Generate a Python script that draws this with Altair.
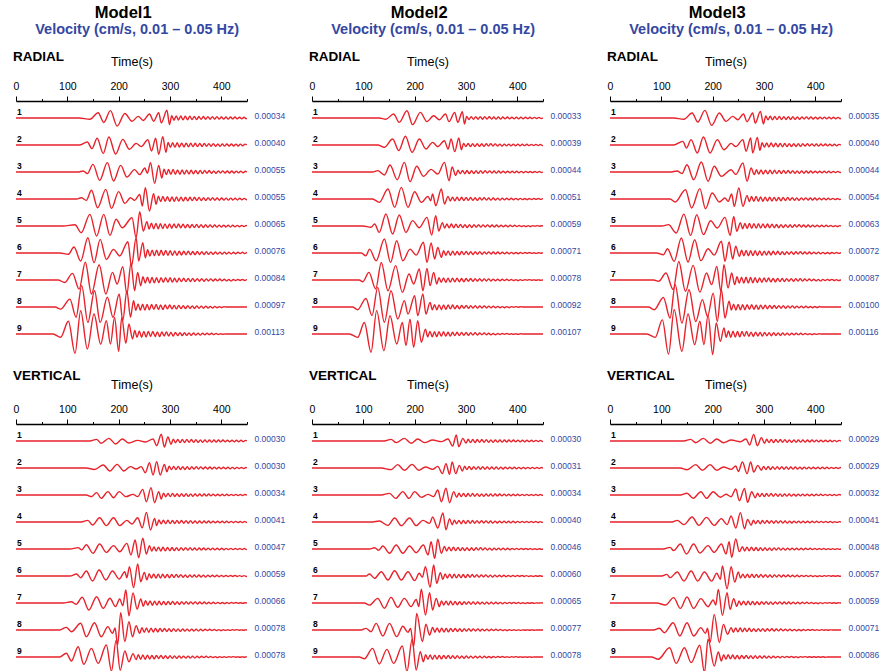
import altair as alt
import pandas as pd

# ------------------------------------------------------------------ data
TIME_MAX = 450
TICK_VALUES = [0, 50, 100, 150, 200, 250, 300, 350, 400, 450]
MODELS = ["Model1", "Model2", "Model3"]
SUBTITLE = "Velocity (cm/s, 0.01 \u2013 0.05 Hz)"
CODA_STEP = 4.4  # seconds between successive coda extrema

# peak amplitude labels (cm/s)
M1_RAD_PEAK = [0.00034, 0.00040, 0.00055, 0.00055, 0.00065, 0.00076, 0.00084, 0.00097, 0.00113]
M1_VER_PEAK = [0.00030, 0.00030, 0.00034, 0.00041, 0.00047, 0.00059, 0.00066, 0.00078, 0.00078]
M2_RAD_PEAK = [0.00033, 0.00039, 0.00044, 0.00051, 0.00059, 0.00071, 0.00078, 0.00092, 0.00107]
M2_VER_PEAK = [0.00030, 0.00031, 0.00034, 0.00040, 0.00046, 0.00060, 0.00065, 0.00077, 0.00078]
M3_RAD_PEAK = [0.00035, 0.00040, 0.00044, 0.00054, 0.00063, 0.00072, 0.00087, 0.00100, 0.00116]
M3_VER_PEAK = [0.00029, 0.00029, 0.00032, 0.00041, 0.00048, 0.00057, 0.00059, 0.00071, 0.00086]

# main wave train: extrema times (s) and amplitudes (% of trace peak)
M1_RAD_T = [
    [123,144,160,171,184,197,212,226,238,248,260,268,278,283,294,299],
    [123,139,148,158,170,181,194,208,221,234,244,257,264,272,278,286,292],
    [121,131,139,150,163,178,190,204,216,231,241,251,256,262,270,278,284],
    [118,127,137,147,159,175,186,200,212,223,231,241,246,252,260,268,273],
    [92,115,127,144,157,171,183,195,207,226,234,241,248,255],
    [85,102,113,126,140,152,164,176,190,202,218,225,234,239,247,252],
    [82,95,110,123,135,147,162,175,188,197,208,216,224,231,237,243],
    [76,87,105,117,128,140,153,164,178,189,201,208,216,223,229],
    [72,87,102,115,126,139,152,165,176,184,192,200,206,214,220,227],
]
M1_RAD_A = [
    [0,-15,65,-55,90,-100,55,-40,20,-30,50,-40,65,-60,95,-80],
    [0,31,-38,70,-87,83,-94,59,-45,17,-17,55,-63,70,-97,87,-76],
    [0,8,-12,58,-63,71,-68,50,-38,18,-20,30,-10,71,-86,50,-45],
    [0,10,-10,66,-66,73,-71,56,-33,10,-10,35,-53,86,-91,40,-40],
    [0,8,-43,75,-64,75,-60,43,-11,53,-75,92,-32,28],
    [0,-7,33,-44,84,-53,75,-35,20,-16,62,-71,84,-44,57,-26],
    [0,-12,33,-45,88,-69,76,-69,38,-20,66,-69,83,-53,38,-28],
    [0,-9,34,-44,92,-66,70,-66,42,-44,56,-59,70,-44,27],
    [0,-12,47,-71,86,-55,74,-37,49,-37,61,-64,61,-34,37,-18],
]
M1_VER_T = [
    [144,157,166,181,194,207,220,237,252,267,274,283,289,296,302],
    [137,153,170,183,197,210,223,234,244,252,260,267,274,281,289,294],
    [137,147,157,166,179,190,201,214,228,237,247,254,263,270,278,283],
    [127,140,149,163,176,190,202,216,226,237,246,254,262,270,274],
    [105,121,128,137,150,163,176,190,202,216,224,232,239,247,254,260],
    [105,118,126,137,149,162,175,188,201,212,216,221,229,237,243,250,255],
    [92,108,117,129,142,157,170,183,194,202,208,214,220,228,236,243,248],
    [85,98,108,126,137,153,166,179,188,193,198,204,212,220,227,234,241],
    [85,98,108,121,132,147,160,176,186,195,203,212,220,228,234],
]
M1_VER_A = [
    [0,23,-32,37,-42,28,-28,9,-14,28,-65,93,-83,55,-46],
    [0,-20,42,-42,51,-42,19,-14,19,-65,74,-97,88,-97,51,-51],
    [0,-20,29,-41,41,-33,41,-20,8,-20,69,-82,90,-94,41,-49],
    [0,17,-31,44,-37,44,-37,17,-20,44,-58,98,-81,37,-37],
    [0,12,-8,38,-38,44,-30,30,-24,50,-53,80,-77,95,-44,30],
    [0,14,-12,35,-35,42,-28,35,-21,30,-12,66,-82,85,-40,26,-28],
    [0,8,-8,36,-44,40,-34,30,-23,25,-17,82,-80,63,-38,25,-21],
    [0,14,-9,36,-36,39,-36,18,-18,11,-80,93,-62,44,-36,23,-18],
    [0,20,-21,55,-39,46,-34,64,-75,89,-71,32,-25,18,-14],
]
M2_RAD_T = [
    [131,144,159,170,185,196,211,224,237,248,260,267,278,284,293,297],
    [128,141,157,169,182,195,209,222,235,245,258,265,271,278,286,291],
    [118,128,141,152,166,180,191,204,217,232,245,258,267,273,280],
    [118,131,148,161,174,187,200,213,226,231,235,241,252,258,265],
    [99,115,122,131,144,157,170,183,196,209,224,233,241,247,254],
    [96,105,112,125,141,153,165,177,191,203,217,224,232,239,245,252],
    [92,99,111,124,135,148,163,176,189,198,209,216,224,230,237,243],
    [79,89,105,117,128,141,154,167,180,187,200,206,216,222,230],
    [73,89,102,115,126,140,152,165,176,183,191,198,206,213,221],
]
M2_RAD_A = [
    [0,-15,50,-55,92,-84,71,-46,29,-21,50,-46,71,-55,80,-76],
    [0,-25,64,-60,93,-78,64,-43,28,-18,46,-43,64,-71,75,-50],
    [0,13,-28,66,-73,91,-91,54,-41,25,-19,91,-82,47,-32],
    [0,-27,82,-68,95,-68,60,-27,22,-14,41,-55,82,-41,22],
    [0,-9,14,-45,85,-56,78,-45,38,-12,61,-64,73,-35,24],
    [0,-16,23,-45,82,-55,72,-45,23,-12,63,-55,59,-35,33,-25],
    [0,-9,41,-48,94,-57,77,-66,32,-21,59,-57,62,-30,41,-21],
    [0,-12,39,-39,89,-69,74,-54,29,-32,51,-39,59,-32,21],
    [0,-13,45,-71,91,-65,71,-39,45,-45,58,-52,52,-32,19],
]
M2_VER_T = [
    [141,154,164,180,193,206,219,235,252,265,274,281,286,294,300],
    [135,154,167,180,195,208,221,235,245,254,261,268,273,280,287,293],
    [135,151,163,177,189,200,213,226,237,245,252,261,268,276,282],
    [118,131,148,161,174,190,203,216,229,235,245,255,261,268,273],
    [112,122,130,138,151,164,177,190,203,217,226,232,239,245,252,258],
    [105,112,122,135,148,161,174,187,200,209,215,221,230,237,243,250,255],
    [102,112,128,141,154,167,180,193,203,208,213,221,229,235,242,248],
    [96,105,115,125,138,151,165,177,187,192,198,204,215,222,229,235],
    [92,102,118,131,146,159,176,185,195,203,211,217],
]
M2_VER_A = [
    [0,23,-23,37,-32,28,-23,14,-9,28,-69,83,-79,37,-28],
    [0,-22,45,-31,49,-31,14,-18,22,-76,58,-85,81,-76,36,-40],
    [0,20,-41,41,-41,41,-29,8,-20,61,-82,82,-94,41,-29],
    [0,10,-35,42,-38,42,-38,17,-14,52,-63,94,-80,35,-28],
    [0,12,-12,27,-39,36,-39,27,-33,36,-54,66,-85,88,-39,24],
    [0,14,-16,30,-28,37,-28,30,-32,19,-9,65,-79,76,-51,23,-23],
    [0,-13,30,-34,36,-28,30,-23,23,-23,88,-77,66,-45,30,-23],
    [0,9,-9,36,-32,36,-36,20,-13,9,-90,90,-63,32,-27,14],
    [0,-9,46,-37,41,-34,59,-78,94,-69,28,-25],
]
M3_RAD_T = [
    [124,144,160,171,185,198,213,226,239,249,260,267,278,283,293,299],
    [124,142,149,158,170,182,195,209,222,236,245,259,265,274,278,287,292],
    [117,131,140,150,163,178,191,203,217,236,245,259,267,275,281],
    [117,127,147,159,175,186,199,213,224,230,237,242,251,259,267],
    [101,114,129,144,157,169,182,196,209,224,234,241,247,254],
    [91,104,112,125,139,152,165,177,191,203,217,224,232,239,245,252],
    [85,95,109,123,134,147,162,175,188,198,208,216,222,230,237,243],
    [75,86,104,117,127,140,154,167,180,190,201,209,217,224,232],
    [72,88,102,114,125,140,152,165,175,183,191,200,207,215,222],
]
M3_RAD_A = [
    [0,-15,60,-48,91,-87,60,-40,20,-20,48,-44,60,-60,79,-71],
    [0,38,-31,56,-83,83,-83,56,-49,17,-17,56,-66,73,-83,80,-55],
    [0,10,-15,69,-73,95,-88,54,-41,22,-22,85,-88,38,-25],
    [0,-23,72,-69,80,-75,46,-23,8,-18,39,-57,85,-57,28],
    [0,9,-46,79,-62,75,-57,35,-13,57,-62,64,-35,22],
    [0,-10,25,-48,87,-52,77,-44,25,-12,68,-48,64,-35,39,-20],
    [0,-6,34,-46,89,-54,70,-58,34,-22,65,-54,73,-38,34,-22],
    [0,-11,40,-46,93,-67,72,-60,31,-39,58,-60,72,-46,24],
    [0,-12,51,-72,87,-62,72,-38,46,-38,69,-74,40,-26,22],
]
M3_VER_T = [
    [144,157,167,182,195,208,221,236,254,265,272,280,287,295,301],
    [137,150,167,180,195,208,221,236,245,250,258,267,274,280,288,295],
    [137,150,162,177,188,201,215,226,236,245,252,262,268,276,283],
    [121,131,144,160,173,188,203,217,228,236,245,254,262,268,275],
    [104,117,124,137,149,163,175,191,203,217,226,232,237,245,252,258],
    [101,111,117,131,144,158,171,184,198,208,215,219,228,236,243,250],
    [91,108,124,137,150,163,177,191,201,206,211,219,228,234,241,247],
    [85,96,106,123,136,150,163,177,186,190,195,203,213,221,229,236],
    [81,94,116,129,145,158,175,184,191,203,211,217],
]
M3_VER_A = [
    [0,24,-24,38,-33,29,-24,14,-10,29,-57,96,-67,48,-33],
    [0,-24,48,-33,48,-33,14,-19,29,-50,86,-81,86,-57,38,-33],
    [0,22,-43,43,-43,43,-30,9,-22,78,-74,87,-96,43,-35],
    [0,17,-27,51,-34,47,-34,34,-27,61,-61,95,-68,27,-34],
    [0,14,-14,43,-43,43,-35,29,-29,43,-43,64,-72,87,-23,20],
    [0,12,-12,29,-37,37,-37,29,-37,20,-24,73,-93,68,-44,29],
    [0,-14,38,-38,42,-38,31,-26,21,-14,96,-87,73,-45,31,-24],
    [0,10,-16,43,-35,43,-35,14,-20,10,-74,92,-74,33,-25,14],
    [0,-11,45,-31,45,-27,57,-76,86,-44,24,-19],
]

# coda: magnitudes (% of trace peak) of successive alternating extrema
M1_RAD_CODA = [
    [29,27,25,26,24,22,23,21,22,20,19,20,18,17,18,16,17,15,16,14,15,14,13,14,12,13,12,11,12,11,10,11,10,9],
    [26,24,23,22,23,21,20,21,19,18,19,17,18,16,17,15,16,14,15,13,14,13,12,13,11,12,11,10,11,10,9,10,9,8,9,8],
    [22,20,19,18,19,17,16,17,15,16,14,15,13,14,12,13,12,11,12,10,11,10,9,10,9,8,9,8,8,7,8,7,7,6,7,6,6,5],
    [22,20,19,18,17,18,16,17,15,16,14,15,13,14,13,12,13,11,12,11,10,11,10,9,10,9,8,9,8,8,7,8,7,7,6,7,6,6,5,5],
    [20,18,17,16,17,15,16,14,15,13,14,13,12,13,11,12,11,10,11,10,9,10,9,8,9,8,8,7,8,7,7,6,7,6,6,5,6,5,5,4,5,4,4,4],
    [18,17,16,15,16,14,15,13,14,12,13,12,11,12,10,11,10,9,10,9,8,9,8,8,7,8,7,7,6,7,6,6,5,6,5,5,4,5,4,4,4,3,4,3,3],
    [16,15,14,15,13,14,12,13,12,11,12,10,11,10,9,10,9,8,9,8,8,7,8,7,7,6,7,6,6,5,6,5,5,4,5,4,4,4,3,4,3,3,3,2,3,2,2],
    [14,13,14,12,13,11,12,11,10,11,10,9,10,9,8,9,8,7,8,7,7,6,7,6,6,5,6,5,5,4,5,4,4,3,4,3,3,2,2,2],
    [13,12,11,12,10,11,10,9,10,9,8,9,8,7,8,7,6,7,6,6,5,6,5,5,4,5,4,4,3,4,3,3,3,2,3,2,2,2,1,1],
]
M1_VER_CODA = [
    [26,24,22,23,21,20,21,19,20,18,17,18,16,17,15,16,14,15,14,13,14,12,13,12,11,12,11,10,11,10,10,9,9],
    [25,23,22,21,22,20,19,20,18,19,17,16,17,15,16,14,15,13,14,13,12,13,11,12,11,10,11,10,9,10,9,9,8,8,8],
    [23,21,20,19,20,18,17,18,16,17,15,16,14,15,13,14,12,13,12,11,12,10,11,10,9,10,9,8,9,8,8,7,8,7,7,6,6,6],
    [20,19,18,17,18,16,17,15,16,14,15,13,14,12,13,12,11,12,10,11,10,9,10,9,8,9,8,8,7,8,7,7,6,7,6,6,5,5,5,5],
    [19,18,17,16,17,15,16,14,15,13,14,12,13,12,11,12,10,11,10,9,10,9,8,9,8,8,7,8,7,7,6,7,6,6,5,6,5,5,4,5,4,4,4],
    [16,15,14,15,13,14,12,13,11,12,11,10,11,9,10,9,8,9,8,8,7,8,7,7,6,7,6,6,5,6,5,5,4,5,4,4,4,3,4,3,3,3,3,3],
    [15,14,13,14,12,13,11,12,10,11,10,9,10,9,8,9,8,7,8,7,7,6,7,6,6,5,6,5,5,4,5,4,4,4,3,4,3,3,3,2,3,2,2,2,2,2],
    [13,12,11,12,10,11,9,10,9,8,9,8,7,8,7,7,6,7,6,6,5,6,5,5,4,5,4,4,4,3,4,3,3,3,2,3,2,2,2,2,2,1,2,1,1,1,1],
    [13,12,11,12,10,11,9,10,9,8,9,8,7,8,7,7,6,7,6,6,5,6,5,5,4,5,4,4,4,3,4,3,3,3,2,3,2,2,2,2,2,1,2,1,1,1,1,1,1],
]
M2_RAD_CODA = [
    [20,19,18,17,18,16,17,15,16,14,15,14,13,14,12,13,12,11,12,11,10,11,10,9,10,9,9,8,9,8,8,7,8,7,7],
    [18,17,16,17,15,16,14,15,13,14,13,12,13,11,12,11,10,11,10,9,10,9,9,8,9,8,8,7,8,7,7,6,7,6,6,6],
    [17,16,15,16,14,15,13,14,12,13,12,11,12,10,11,10,9,10,9,9,8,9,8,8,7,8,7,7,6,7,6,6,5,6,5,5,5,4,4],
    [16,15,14,15,13,14,12,13,11,12,11,10,11,10,9,10,9,8,9,8,8,7,8,7,7,6,7,6,6,5,6,5,5,4,5,4,4,4,3,4,3,3],
    [15,14,13,14,12,13,11,12,11,10,11,9,10,9,8,9,8,8,7,8,7,7,6,7,6,6,5,6,5,5,4,5,4,4,4,3,4,3,3,3,2,3,2,2],
    [14,13,12,13,11,12,10,11,10,9,10,9,8,9,8,7,8,7,7,6,7,6,6,5,6,5,5,4,5,4,4,4,3,4,3,3,3,2,3,2,2,2,2,1,1],
    [13,12,11,12,10,11,10,9,10,9,8,9,8,7,8,7,7,6,7,6,6,5,6,5,5,4,5,4,4,3,4,3,3,3,2,3,2,2,2,1,2,1,1,1,1,1],
    [12,11,12,10,11,9,10,9,8,9,8,7,8,7,6,7,6,6,5,6,5,5,4,5,4,4,3,4,3,3,3,2,3,2,2,2,1,2,1,1],
    [11,10,11,9,10,9,8,9,8,7,8,7,6,7,6,6,5,6,5,5,4,5,4,4,3,4,3,3,3,2,3,2,2,2,1,2,1,1,1,1,1,1],
]
M2_VER_CODA = [
    [24,22,21,22,20,19,20,18,19,17,16,17,15,16,14,15,13,14,13,12,13,11,12,11,10,11,10,9,10,9,9,8,8,8],
    [23,21,20,21,19,18,19,17,18,16,15,16,14,15,13,14,12,13,12,11,12,10,11,10,9,10,9,9,8,9,8,8,7,7,7],
    [21,20,19,20,18,17,18,16,17,15,14,15,13,14,12,13,12,11,12,10,11,10,9,10,9,8,9,8,8,7,8,7,7,6,6,6,6,5],
    [19,18,17,18,16,15,16,14,15,13,14,12,13,11,12,11,10,11,9,10,9,8,9,8,8,7,8,7,7,6,7,6,6,5,6,5,5,5,4,4],
    [18,17,16,17,15,14,15,13,14,12,13,11,12,11,10,11,9,10,9,8,9,8,7,8,7,7,6,7,6,6,5,6,5,5,4,5,4,4,4,3,4,3,3],
    [15,14,13,14,12,13,11,12,10,11,10,9,10,8,9,8,8,7,8,7,6,7,6,6,5,6,5,5,4,5,4,4,4,3,4,3,3,3,2,3,2,2,2,2],
    [14,13,12,13,11,12,10,11,9,10,9,8,9,8,7,8,7,7,6,7,6,6,5,6,5,5,4,5,4,4,4,3,4,3,3,3,2,3,2,2,2,2,1,1,1],
    [12,11,12,10,11,9,10,9,8,9,8,7,8,7,6,7,6,6,5,6,5,5,4,5,4,4,3,4,3,3,3,2,3,2,2,2,2,1,2,1,1,1,1,1,1],
    [13,12,11,12,10,11,9,10,9,8,9,8,7,8,7,7,6,7,6,6,5,6,5,5,4,5,4,4,3,4,3,3,3,2,3,2,2,2,2,1,2,1,1,1,1,1,1,1],
]
M3_RAD_CODA = [
    [24,22,21,22,20,19,20,18,17,18,16,17,15,16,14,15,14,13,14,12,13,12,11,12,11,10,11,10,9,10,9,9,8,8],
    [24,22,21,20,21,19,18,19,17,18,16,17,15,16,14,15,13,14,13,12,13,11,12,11,10,11,10,9,10,9,8,9,8,8,7,7],
    [22,20,19,20,18,17,18,16,17,15,16,14,15,13,14,12,13,12,11,12,10,11,10,9,10,9,8,9,8,8,7,8,7,7,6,6,6,5],
    [20,19,18,19,17,16,17,15,16,14,15,13,14,12,13,12,11,12,10,11,10,9,10,9,8,9,8,8,7,8,7,7,6,7,6,6,5,5,5,4,4],
    [18,17,16,17,15,16,14,15,13,14,12,13,11,12,11,10,11,9,10,9,9,8,9,8,7,8,7,7,6,7,6,6,5,6,5,5,4,5,4,4,4,3,3,3],
    [17,16,15,16,14,15,13,14,12,13,11,12,10,11,10,9,10,9,8,9,8,7,8,7,7,6,7,6,6,5,6,5,5,4,5,4,4,4,3,4,3,3,3,2,2],
    [16,15,14,15,13,14,12,13,11,12,10,11,10,9,10,9,8,9,8,7,8,7,7,6,7,6,6,5,6,5,5,4,5,4,4,4,3,4,3,3,3,2,3,2,2,2],
    [13,12,13,11,12,10,11,10,9,10,9,8,9,8,7,8,7,7,6,7,6,6,5,6,5,5,4,5,4,4,3,4,3,3,3,2,3,2,2,2],
    [12,11,12,10,11,9,10,9,8,9,8,7,8,7,7,6,7,6,6,5,6,5,5,4,5,4,4,3,4,3,3,3,2,3,2,2,2,1,2,1,1,1],
]
M3_VER_CODA = [
    [25,23,22,23,21,20,21,19,20,18,17,18,16,17,15,16,14,15,14,13,14,12,13,12,11,12,11,10,11,10,9,10,9,9],
    [24,22,21,22,20,19,20,18,19,17,16,17,15,16,14,15,13,14,13,12,13,11,12,11,10,11,10,9,10,9,9,8,8,8,8],
    [22,21,20,21,19,18,19,17,18,16,15,16,14,15,13,14,12,13,12,11,12,10,11,10,9,10,9,8,9,8,8,7,8,7,7,6,6,6],
    [18,17,16,17,15,14,15,13,14,12,13,11,12,11,10,11,9,10,9,8,9,8,8,7,8,7,7,6,7,6,6,5,6,5,5,5,4,4,4,4],
    [17,16,15,16,14,13,14,12,13,11,12,10,11,10,9,10,9,8,9,8,7,8,7,7,6,7,6,6,5,6,5,5,4,5,4,4,4,3,4,3,3,3,3],
    [15,14,13,14,12,13,11,12,10,11,9,10,9,8,9,8,7,8,7,7,6,7,6,6,5,6,5,5,4,5,4,4,4,3,4,3,3,3,2,3,2,2,2,2,2],
    [15,14,13,14,12,13,11,12,10,11,10,9,10,9,8,9,8,7,8,7,7,6,7,6,6,5,6,5,5,4,5,4,4,4,3,4,3,3,3,2,3,2,2,2,2],
    [13,12,11,12,10,11,9,10,9,8,9,8,7,8,7,7,6,7,6,6,5,6,5,5,4,5,4,4,4,3,4,3,3,3,2,3,2,2,2,2,1,1,1,1],
    [11,10,11,9,10,9,8,9,8,7,8,7,6,7,6,6,5,6,5,5,4,5,4,4,3,4,3,3,3,2,3,2,2,2,2,1,2,1,1,1,1,1,1,1,1,1],
]

# ------------------------------------------------------------------ style
RED = "#e8222b"
BLUE = "#3447a3"
FONT = "Liberation Sans"
PANEL_W = 231
PX_PER_TRACE = 27.0
GAIN_PX = 24000.0               # plotted pixels per cm/s
AMP_TO_Y = GAIN_PX / PX_PER_TRACE
Y_TOP = 0.37
RAD_YMAX = 9.85
VER_YMAX = 9.555


def trace_frame(peaks, times, amps, coda):
    rows = []
    for i in range(9):
        tr = i + 1
        s = peaks[i] * AMP_TO_Y / 100.0
        pts = [(0.0, 0.0)] + list(zip(times[i], amps[i]))
        t = float(times[i][-1])
        sign = -1 if amps[i][-1] > 0 else 1
        for m in coda[i]:
            t += CODA_STEP
            if t >= TIME_MAX:
                break
            pts.append((t, sign * m))
            sign = -sign
        if t + CODA_STEP < TIME_MAX:
            pts.append((t + CODA_STEP, 0.0))
        pts.append((float(TIME_MAX), 0.0))
        for k, (tt, aa) in enumerate(pts):
            rows.append({"trace": tr, "t": tt, "y": tr - aa * s, "k": k})
    return pd.DataFrame(rows)


def x_enc(field):
    return alt.X(
        f"{field}:Q",
        scale=alt.Scale(domain=[0, TIME_MAX], nice=False, zero=False),
        axis=alt.Axis(
            orient="top", values=TICK_VALUES, title="Time(s)",
            labelExpr="datum.value % 100 === 0 ? datum.label : ''",
            tickSize={"condition": {"test": "datum.value % 100 === 0", "value": 5}, "value": 2.5},
            labelFlush=False, labelOverlap=False, grid=False,
            labelFont=FONT, labelFontSize=10.5, labelColor="black", labelPadding=4.4,
            titleFont=FONT, titleFontSize=12.5, titleFontWeight="normal", titleColor="black",
            titlePadding=13, domainColor="black", domainWidth=1.5, tickColor="black", tickWidth=1,
        ),
    )


def panel(name, peaks, times, amps, coda, ymax, title_dy):
    df = trace_frame(peaks, times, amps, coda)
    lab = pd.DataFrame({
        "trace": list(range(1, 10)),
        "t0": [0] * 9,
        "t1": [TIME_MAX] * 9,
        "label": [f"{p:.5f}" for p in peaks],
    })
    y_sc = alt.Scale(domain=[Y_TOP, ymax], reverse=True, nice=False, zero=False)
    lines = alt.Chart(df).mark_line(
        color=RED, strokeWidth=1.4, interpolate="monotone", clip=True
    ).encode(
        x=x_enc("t"), y=alt.Y("y:Q", scale=y_sc, axis=None),
        detail="trace:N", order="k:Q",
    )
    nums = alt.Chart(lab).mark_text(
        align="left", baseline="bottom", dx=1, dy=-1.5, fontSize=8.5,
        fontWeight="bold", font=FONT, color="black",
    ).encode(x=x_enc("t0"), y=alt.Y("trace:Q", scale=y_sc, axis=None), text="trace:N")
    amp_txt = alt.Chart(lab).mark_text(
        align="left", baseline="middle", dx=7.5, dy=-2, fontSize=8.5,
        font=FONT, color=BLUE,
    ).encode(x=x_enc("t1"), y=alt.Y("trace:Q", scale=y_sc, axis=None), text="label:N")
    h = round((ymax - Y_TOP) * PX_PER_TRACE)
    return alt.layer(lines, nums, amp_txt).properties(
        width=PANEL_W, height=h,
        title=alt.TitleParams(
            name, anchor="start", font=FONT, fontSize=13.5, fontWeight="bold",
            color="black", offset=0, dy=title_dy,
        ),
    )


def column(model, rad, ver):
    inner = alt.vconcat(rad, ver, spacing=12).properties(
        title=alt.TitleParams(
            SUBTITLE, anchor="middle", frame="bounds", dx=-12,
            font=FONT, fontSize=14.5, fontWeight="bold", color=BLUE, offset=13,
        )
    )
    return alt.vconcat(inner, spacing=0).properties(
        title=alt.TitleParams(
            model, anchor="middle", frame="bounds", dx=-26,
            font=FONT, fontSize=16.5, fontWeight="bold", color="black", offset=0,
        )
    )


c1 = column(MODELS[0],
            panel("RADIAL", M1_RAD_PEAK, M1_RAD_T, M1_RAD_A, M1_RAD_CODA, RAD_YMAX, 8),
            panel("VERTICAL", M1_VER_PEAK, M1_VER_T, M1_VER_A, M1_VER_CODA, VER_YMAX, 4))
c2 = column(MODELS[1],
            panel("RADIAL", M2_RAD_PEAK, M2_RAD_T, M2_RAD_A, M2_RAD_CODA, RAD_YMAX, 8),
            panel("VERTICAL", M2_VER_PEAK, M2_VER_T, M2_VER_A, M2_VER_CODA, VER_YMAX, 4))
c3 = column(MODELS[2],
            panel("RADIAL", M3_RAD_PEAK, M3_RAD_T, M3_RAD_A, M3_RAD_CODA, RAD_YMAX, 8),
            panel("VERTICAL", M3_VER_PEAK, M3_VER_T, M3_VER_A, M3_VER_CODA, VER_YMAX, 4))

chart = alt.hconcat(
    alt.hconcat(c1, c2, spacing=23), c3, spacing=25
).properties(
    padding={"left": 13, "top": 5, "right": 0, "bottom": 0},
    background="white",
).configure_view(stroke=None)

chart.save("out.html", embed_options={"renderer": "svg", "actions": False})
